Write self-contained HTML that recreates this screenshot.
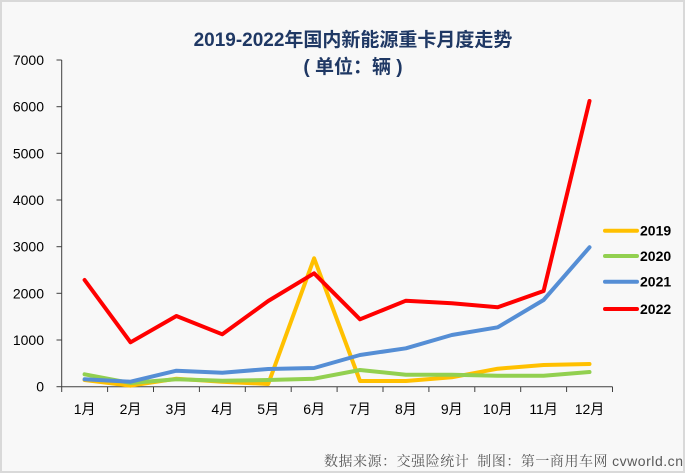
<!DOCTYPE html>
<html>
<head>
<meta charset="utf-8">
<style>
  html,body{margin:0;padding:0;background:#fff;}
  .wrap{width:686px;height:474px;position:relative;overflow:hidden;}
  svg{display:block;}
</style>
</head>
<body>
<div class="wrap">
<svg width="686" height="474" viewBox="0 0 686 474" xmlns="http://www.w3.org/2000/svg">
  <rect x="1" y="1" width="683" height="471" fill="#f8f8f8" stroke="#d9d9d9" stroke-width="2"/>

  <!-- Title -->
  <text x="353" y="46" text-anchor="middle" font-family="'Liberation Sans','Noto Sans CJK SC',sans-serif" font-size="19" font-weight="bold" fill="#1f3864">2019-2022年国内新能源重卡月度走势</text>
  <text x="353" y="73" text-anchor="middle" font-family="'Liberation Sans','Noto Sans CJK SC',sans-serif" font-size="19" font-weight="bold" fill="#1f3864">( 单位：辆 )</text>

  <!-- Axes -->
  <g stroke="#404040" stroke-width="1" fill="none">
    <line x1="61.7" y1="60" x2="61.7" y2="386.7"/>
    <line x1="61.7" y1="386.7" x2="612.5" y2="386.7"/>
    <line x1="56.5" y1="60" x2="61.7" y2="60"/>
    <line x1="56.5" y1="106.7" x2="61.7" y2="106.7"/>
    <line x1="56.5" y1="153.3" x2="61.7" y2="153.3"/>
    <line x1="56.5" y1="200" x2="61.7" y2="200"/>
    <line x1="56.5" y1="246.7" x2="61.7" y2="246.7"/>
    <line x1="56.5" y1="293.3" x2="61.7" y2="293.3"/>
    <line x1="56.5" y1="340" x2="61.7" y2="340"/>
    <line x1="56.5" y1="386.7" x2="61.7" y2="386.7"/>
    <line x1="61.7" y1="386.7" x2="61.7" y2="392"/>
    <line x1="107.6" y1="386.7" x2="107.6" y2="392"/>
    <line x1="153.5" y1="386.7" x2="153.5" y2="392"/>
    <line x1="199.4" y1="386.7" x2="199.4" y2="392"/>
    <line x1="245.3" y1="386.7" x2="245.3" y2="392"/>
    <line x1="291.2" y1="386.7" x2="291.2" y2="392"/>
    <line x1="337.1" y1="386.7" x2="337.1" y2="392"/>
    <line x1="383" y1="386.7" x2="383" y2="392"/>
    <line x1="428.9" y1="386.7" x2="428.9" y2="392"/>
    <line x1="474.8" y1="386.7" x2="474.8" y2="392"/>
    <line x1="520.7" y1="386.7" x2="520.7" y2="392"/>
    <line x1="566.6" y1="386.7" x2="566.6" y2="392"/>
    <line x1="612.5" y1="386.7" x2="612.5" y2="392"/>
  </g>

  <!-- Y labels -->
  <g font-family="'Liberation Sans',sans-serif" font-size="14" fill="#000" text-anchor="end">
    <text x="44" y="65">7000</text>
    <text x="44" y="111.7">6000</text>
    <text x="44" y="158.3">5000</text>
    <text x="44" y="205">4000</text>
    <text x="44" y="251.7">3000</text>
    <text x="44" y="298.3">2000</text>
    <text x="44" y="345">1000</text>
    <text x="44" y="391.7">0</text>
  </g>

  <!-- X labels -->
  <g font-family="'Liberation Sans','Noto Sans CJK SC',sans-serif" font-size="14" fill="#000" text-anchor="middle">
    <text x="84.6" y="414">1月</text>
    <text x="130.5" y="414">2月</text>
    <text x="176.4" y="414">3月</text>
    <text x="222.3" y="414">4月</text>
    <text x="268.2" y="414">5月</text>
    <text x="314.1" y="414">6月</text>
    <text x="360" y="414">7月</text>
    <text x="405.9" y="414">8月</text>
    <text x="451.8" y="414">9月</text>
    <text x="497.7" y="414">10月</text>
    <text x="543.6" y="414">11月</text>
    <text x="589.5" y="414">12月</text>
  </g>

  <!-- Series -->
  <g fill="none" stroke-width="4" stroke-linejoin="round" stroke-linecap="round">
    <polyline stroke="#ffc000" points="84.6,380 130.5,385.7 176.4,378.7 222.3,381.7 268.2,384 314.1,258.3 360,381 405.9,381 451.8,377.3 497.7,368.7 543.6,365 589.5,364"/>
    <polyline stroke="#92d050" points="84.6,374.3 130.5,383 176.4,379.3 222.3,380.7 268.2,380 314.1,378.7 360,370 405.9,374.7 451.8,374.7 497.7,375.7 543.6,375.7 589.5,372"/>
    <polyline stroke="#558ed5" points="84.6,379.3 130.5,381.7 176.4,370.7 222.3,372.7 268.2,369 314.1,368 360,355 405.9,348.3 451.8,335 497.7,327.3 543.6,300 589.5,247.3"/>
    <polyline stroke="#ff0000" points="84.6,280 130.5,342.3 176.4,316 222.3,334.3 268.2,301 314.1,273.3 360,319.3 405.9,300.7 451.8,303.3 497.7,307.3 543.6,291 589.5,101"/>
  </g>

  <!-- Legend -->
  <g stroke-width="4" stroke-linecap="round">
    <line x1="605" y1="230.7" x2="637" y2="230.7" stroke="#ffc000"/>
    <line x1="605" y1="256" x2="637" y2="256" stroke="#92d050"/>
    <line x1="605" y1="281.7" x2="637" y2="281.7" stroke="#558ed5"/>
    <line x1="605" y1="309" x2="637" y2="309" stroke="#ff0000"/>
  </g>
  <g font-family="'Liberation Sans',sans-serif" font-size="14" font-weight="bold" fill="#000">
    <text x="640" y="235.7">2019</text>
    <text x="640" y="261">2020</text>
    <text x="640" y="286.7">2021</text>
    <text x="640" y="314">2022</text>
  </g>

  <!-- Footer -->
  <text x="324" y="466" textLength="359" lengthAdjust="spacing" font-size="14" fill="#595959"><tspan font-family="'Liberation Serif','Noto Serif CJK SC',serif">数据来源：交强险统计&#160;&#160;制图：第一商用车网&#160;</tspan><tspan font-family="'Liberation Sans',sans-serif">cvworld.cn</tspan></text>
</svg>
</div>
</body>
</html>
